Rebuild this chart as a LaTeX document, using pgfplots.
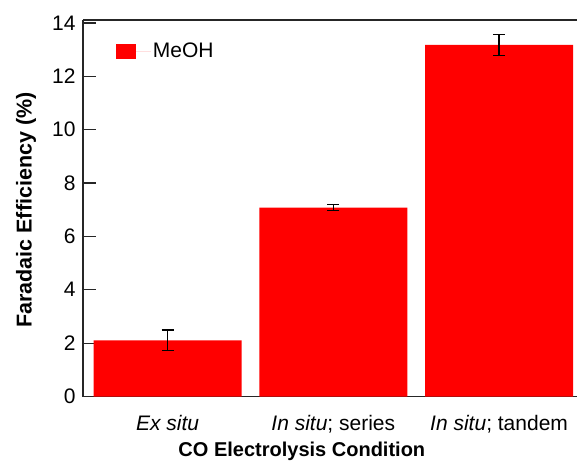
\documentclass[border=0pt]{standalone}
\usepackage{fontspec}
\setmainfont{Liberation Sans}
\usepackage{pgfplots}
\pgfplotsset{compat=1.18}
\begin{document}
\begin{tikzpicture}
\begin{axis}[
  at={(0pt,0pt)}, anchor=south west,
  scale only axis,
  width=494pt, height=376.5pt,
  xmin=-0.51, xmax=2.47,
  ymin=0, ymax=14.11,
  axis x line*=bottom, axis y line*=left,
  axis line style={line width=1.2pt, black!85},
  ytick={0,2,...,14},
  ytick align=inside,
  major tick length=13pt,
  xtick={0,1,2},
  xticklabels={\textit{Ex situ}, \textit{In situ}; series, \textit{In situ}; tandem},
  x tick style={draw=none},
  minor xtick={-0.5,0.5,1.5,2.5},
  minor x tick style={line width=1.2pt, black!85},
  xtick align=outside,
  minor tick length=15pt,
  y tick style={line width=1.2pt, black!85},
  tick label style={font=\fontsize{21}{24}\selectfont},
  /pgf/number format/assume math mode=true,
  xticklabel style={yshift=-2pt},
  yticklabel style={xshift=-4pt},
  xlabel={\textbf{CO Electrolysis Condition}},
  ylabel={\textbf{Faradaic Efficiency (\%)}},
  xlabel style={font=\fontsize{20}{23}\selectfont, at={(axis description cs:0.443,0)}, anchor=base, yshift=-60pt},
  ylabel style={font=\fontsize{21.5}{24}\selectfont, at={(axis description cs:-0.115,0.495)}, anchor=center},
  legend style={at={(axis description cs:0.06,0.95)}, anchor=north west, draw=none, fill=none,
    font=\fontsize{21}{24}\selectfont},
  ybar, bar width=0.893,
  clip=false,
]
\addplot[fill=red, draw=none,
  legend image code/.code={\fill[red] (0pt,-7.5pt) rectangle (20pt,7.5pt); \path (0pt,0pt) -- (35pt,0pt);},
  error bars/.cd, y dir=both, y explicit,
  error bar style={line width=1.2pt, black},
  error mark options={rotate=90, mark size=6pt, line width=1.2pt, black}]
  coordinates {(0,2.1) +- (0,0.39) (1,7.08) +- (0,0.11) (2,13.18) +- (0,0.40)};
\addlegendentry{MeOH}
\draw[line width=1.2pt, black!85] (rel axis cs:0,1) -- (rel axis cs:1,1);
\end{axis}
\pgfresetboundingbox
\path (-83pt,-69.5pt) rectangle (494pt,396.5pt);
\end{tikzpicture}
\end{document}
